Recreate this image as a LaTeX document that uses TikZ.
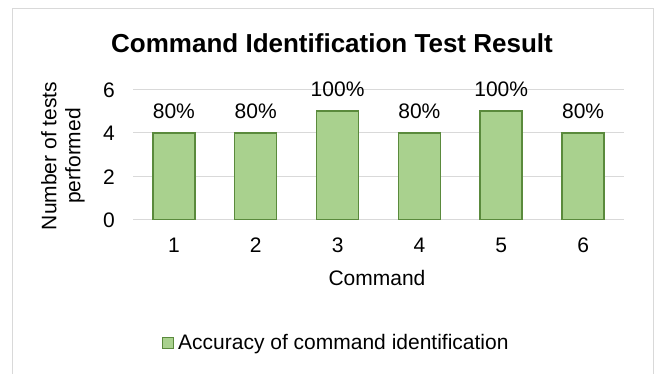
\documentclass[tikz,border=0pt]{standalone}
\usepackage{fontspec}
\setmainfont{Liberation Sans}
\definecolor{barfill}{HTML}{A9D18E}
\definecolor{barline}{HTML}{5A8A3C}
\definecolor{gridgray}{HTML}{D9D9D9}
% bar: (name)(centre x)(value:label)
\def\cmdbar(#1)(#2)(#3:#4){\draw[barline, line width=1.5pt, fill=barfill] ({#2-21}, 219.5) rectangle ({#2+21}, {219.5-21.67*#3});
	\node[valtext] (pct#1) at (#2, {219.5-21.67*#3-14.5}) {#4};}

\begin{document}
\begin{tikzpicture}[x=1pt, y=-1pt,
	valtext/.style={inner sep=0, anchor=base, font=\fontsize{21}{24}\selectfont},
	ticktext/.style={inner sep=0, anchor=base east, font=\fontsize{21}{24}\selectfont}]
		%%%%% START %%%%%
		\useasboundingbox (0, 0) rectangle (667, 374);
		\draw[gridgray, line width=1pt] (12.5, 9) rectangle (653.5, 400);
		
		\node[inner sep=0, anchor=base, font=\fontsize{26}{30}\selectfont\bfseries] (title) at (332, 52.3) {Command Identification Test Result};
		
		\draw[gridgray, line width=1pt] (133, 89.5) -- (624, 89.5);
		\draw[gridgray, line width=1pt] (133, 132.8) -- (624, 132.8);
		\draw[gridgray, line width=1pt] (133, 176.2) -- (624, 176.2);
		\draw[gridgray, line width=1.2pt] (133, 219.5) -- (624, 219.5);
		
		\node[ticktext] (y6) at (115, 97.5) {6};
		\node[ticktext] (y4) at (115, 140.8) {4};
		\node[ticktext] (y2) at (115, 184.2) {2};
		\node[ticktext] (y0) at (115, 227.5) {0};
		
		\node[inner sep=0, rotate=90, align=center, font=\fontsize{21}{24}\selectfont] (ytitle) at (63, 156) {Number of tests\\performed};
		
		\cmdbar(1)(173.9)(4:80\%)
		\cmdbar(2)(255.7)(4:80\%)
		\cmdbar(3)(337.6)(5:100\%)
		\cmdbar(4)(419.4)(4:80\%)
		\cmdbar(5)(501.2)(5:100\%)
		\cmdbar(6)(583.1)(4:80\%)
		
		\node[valtext] (x1) at (173.9, 252.5) {1};
		\node[valtext] (x2) at (255.7, 252.5) {2};
		\node[valtext] (x3) at (337.6, 252.5) {3};
		\node[valtext] (x4) at (419.4, 252.5) {4};
		\node[valtext] (x5) at (501.2, 252.5) {5};
		\node[valtext] (x6) at (583.1, 252.5) {6};
		
		\node[valtext] (xtitle) at (377, 285.5) {Command};
		
		\draw[barline, line width=1pt, fill=barfill] (162, 337) rectangle (173, 348);
		\node[valtext, anchor=base west] (legend) at (178, 349.2) {Accuracy of command identification};
		%%%%% END %%%%%
	\end{tikzpicture}
\end{document}
